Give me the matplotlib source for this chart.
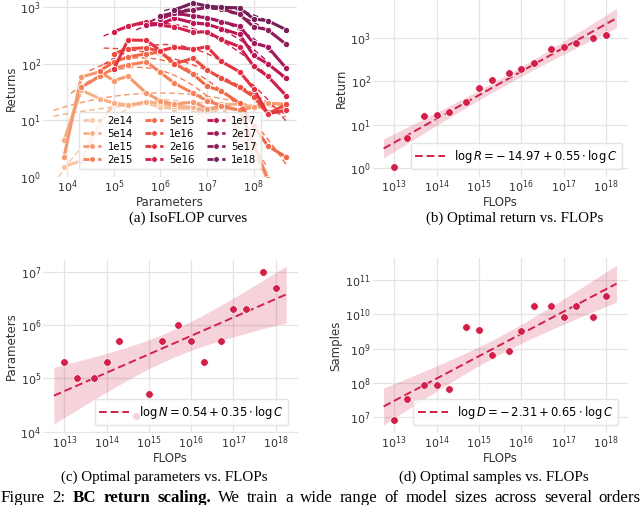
import numpy as np
import matplotlib
matplotlib.use("Agg")
import matplotlib.pyplot as plt
from matplotlib.lines import Line2D
import seaborn as sns

nan = np.nan

# ---------------- data ----------------
budget_labels = ['2e14', '5e14', '1e15', '2e15', '5e15', '1e16',
                 '2e16', '5e16', '1e17', '2e17', '5e17', '1e18']
params_grid = [8.5e3, 2e4, 5e4, 1e5, 2e5, 5e5, 1e6, 2e6, 5e6,
               1e7, 2e7, 5e7, 1e8, 2e8, 5e8]

ret_2e14 = [1.5, 1.9, 9, 19, 18, 20, 17, 16, 16, 10.5, 18, 6, 2.5, 0.9, nan]
ret_5e14 = [4.4, 34, 24, 20, 18.5, 21, 20, 17.5, 17, 14, 19, 19, 17, 20, 19]
ret_1e15 = [2.2, 58, 72, 50, 60, 30, 22, 19, 21, 16, 17, 15, 17, 20, 19]
ret_2e15 = [nan, 38, 60, 83, 95, 108, 70, 45, 30, 22, 18, 15, 3.8, 0.9, nan]
ret_5e15 = [nan, nan, 75, 107, 132, 150, 160, 100, 65, 40, 33, 20, 8, 3.5, 2.2]
ret_1e16 = [nan, nan, nan, 150, 185, 192, 165, 100, 125, 78, 55, 38, 26, 13, 19]
ret_2e16 = [nan, nan, nan, 80, 263, 260, 170, 195, 180, 200, 110, 72, 36, 13, 15]
ret_5e16 = [nan, nan, nan, 370, 460, 560, 480, 450, 360, 370, 270, 200, 90, 60, 27]
ret_1e17 = [nan, nan, nan, nan, nan, 480, 500, 645, 530, 500, 420, 330, 140, 100, 55]
ret_2e17 = [nan, nan, nan, nan, nan, nan, 620, 790, 700, 650, 560, 460, 230, 200, 83]
ret_5e17 = [nan, nan, nan, nan, nan, nan, 700, 800, 900, 1000, 950, 750, 450, 400, 220]
ret_1e18 = [nan, nan, nan, nan, nan, nan, nan, 900, 1200, 1050, 1000, 980, 620, 580, 400]

isoflop_returns = [ret_2e14, ret_5e14, ret_1e15, ret_2e15, ret_5e15, ret_1e16,
                   ret_2e16, ret_5e16, ret_1e17, ret_2e17, ret_5e17, ret_1e18]

flops = [1e13, 2e13, 5e13, 1e14, 2e14, 5e14, 1e15, 2e15, 5e15, 1e16,
         2e16, 5e16, 1e17, 2e17, 5e17, 1e18]
opt_return = [1.05, 5.0, 15.5, 17, 20, 34, 72, 108, 160, 192,
              263, 560, 645, 790, 1000, 1200]
opt_params = [2e5, 1e5, 1e5, 2e5, 5e5, 2e4, 5e4, 5e5, 1e6, 5e5,
              2e5, 5e5, 2e6, 2e6, 1e7, 5e6]
opt_samples = [8.5e6, 3.5e7, 8.5e7, 8.5e7, 6.8e7, 4.4e9, 3.5e9, 6.7e8, 8.4e8,
               3.3e9, 1.7e10, 1.7e10, 8.2e9, 1.7e10, 8.2e9, 3.3e10]

label_b = r'$\log R = -\,14.97 + 0.55 \cdot \log C$'
label_c = r'$\log N = 0.54 + 0.35 \cdot \log C$'
label_d = r'$\log D = -\,2.31 + 0.65 \cdot \log C$'

caption_words = ['Figure', '2:', 'BC', 'return', 'scaling.', 'We', 'train', 'a',
                 'wide', 'range', 'of', 'model', 'sizes', 'across', 'several',
                 'orders', 'of', 'magnitude']
caption_bold = [0, 0, 1, 1, 1, 0, 0, 0, 0, 0, 0, 0, 0, 0, 0, 0, 0, 0]

# ---------------- style ----------------
W, H = 640, 505
fig = plt.figure(figsize=(W / 100, H / 100), dpi=100)
TXT = '#333333'
GRID = '#e4e4e4'
RED = '#d2204a'
TICK_FS = 8.0
LAB_FS = 8.5

rocket = sns.color_palette("rocket", as_cmap=True)
colors = [rocket(v) for v in np.linspace(0.9, 0.3, len(budget_labels))]


def add_axes(l, r, t, b):
    return fig.add_axes([l / W, 1 - b / H, (r - l) / W, (b - t) / H])


def style(ax):
    ax.set_xscale('log')
    ax.set_yscale('log')
    for s in ax.spines.values():
        s.set_visible(False)
    ax.grid(True, which='major', color=GRID, lw=0.9)
    ax.minorticks_off()
    ax.tick_params(which='both', length=0, labelsize=TICK_FS, colors=TXT, pad=1.5)
    ax.set_axisbelow(True)


# ---------------- panel a ----------------
axa = add_axes(43, 297, 0, 176.5)
style(axa)
lg = np.log10(np.array(params_grid))
for vals, c in zip(isoflop_returns, colors):
    v = np.array(vals, dtype=float)
    m = ~np.isnan(v)
    x, y = lg[m], np.log10(v[m])
    p = np.polyfit(x, y, 2)
    xs = np.linspace(x.min() - 0.22, x.max(), 100)
    axa.plot(10 ** xs, 10 ** np.polyval(p, xs), ls='--', lw=1.0, color=c,
             dashes=(4, 2.5), zorder=2)
    axa.plot(np.array(params_grid)[m], v[m], '-o', color=c, lw=2.2, ms=4.5,
             mec='white', mew=0.6, zorder=3)
axa.set_xlim(10 ** 3.48, 10 ** 8.93)
axa.set_ylim(1, 10 ** 3.13)
axa.set_xticks([1e4, 1e5, 1e6, 1e7, 1e8])
axa.set_yticks([1, 10, 100, 1000])
axa.set_xlabel('Parameters', fontsize=LAB_FS, color=TXT, labelpad=0.5)
axa.set_ylabel('Returns', fontsize=LAB_FS, color=TXT, labelpad=2)
handles = [Line2D([], [], color=c, ls='--', lw=2.0, marker='o', ms=4,
                  mec='white', mew=0.5) for c in colors]
axa.legend(handles, budget_labels, ncol=3, loc='lower center',
           fontsize=7.3, frameon=True, framealpha=0.8, edgecolor='#dddddd',
           handlelength=1.8, handletextpad=0.6, columnspacing=1.2,
           labelspacing=0.3, borderpad=0.4, bbox_to_anchor=(0.5, 0.015))


# ---------------- panels b-d ----------------
def fit_panel(ax, xv, yv, label, loc_anchor):
    x = np.log10(np.array(xv))
    y = np.log10(np.array(yv))
    n = len(x)
    b, a = np.polyfit(x, y, 1)
    resid = y - (a + b * x)
    s = np.sqrt(np.sum(resid ** 2) / (n - 2))
    xm = x.mean()
    sxx = np.sum((x - xm) ** 2)
    xs = np.linspace(12.75, 18.25, 200)
    pred = a + b * xs
    se = s * np.sqrt(1 / n + (xs - xm) ** 2 / sxx)
    t = 2.145
    ax.fill_between(10 ** xs, 10 ** (pred - t * se), 10 ** (pred + t * se),
                    color=RED, alpha=0.2, lw=0, zorder=1)
    ax.plot(10 ** xs, 10 ** pred, ls='--', color=RED, lw=1.4, label=label,
            dashes=(4, 2), zorder=2)
    ax.scatter(xv, yv, s=30, color=RED, edgecolor='white', lw=0.5, zorder=3)
    ax.set_xlim(10 ** 12.5, 10 ** 18.52)
    ax.set_xticks([1e13, 1e14, 1e15, 1e16, 1e17, 1e18])
    ax.set_xlabel('FLOPs', fontsize=LAB_FS, color=TXT, labelpad=0.5)
    ax.legend(loc='lower right', fontsize=8.3, frameon=True, framealpha=0.8,
              edgecolor='#dddddd', handlelength=2.6, borderpad=0.4,
              bbox_to_anchor=loc_anchor)


axb = add_axes(373, 628, 0, 176.7)
style(axb)
fit_panel(axb, flops, opt_return, label_b, (1.0, 0.01))
axb.set_ylim(10 ** -0.21, 10 ** 3.89)
axb.set_yticks([1, 10, 100, 1000])
axb.set_ylabel('Return', fontsize=LAB_FS, color=TXT, labelpad=2)

axc = add_axes(43.3, 297.7, 260, 432.7)
style(axc)
fit_panel(axc, flops, opt_params, label_c, (0.985, 0.01))
axc.set_ylim(10 ** 3.98, 10 ** 7.22)
axc.set_yticks([1e4, 1e5, 1e6, 1e7])
axc.set_ylabel('Parameters', fontsize=LAB_FS, color=TXT, labelpad=2)

axd = add_axes(373, 628, 258, 432.7)
style(axd)
fit_panel(axd, flops, opt_samples, label_d, (0.985, 0.01))
axd.set_ylim(10 ** 6.55, 10 ** 11.64)
axd.set_yticks([1e7, 1e8, 1e9, 1e10, 1e11])
axd.set_ylabel('Samples', fontsize=LAB_FS, color=TXT, labelpad=2)

# ---------------- captions ----------------
SERIF = 'Liberation Serif'
CAP_FS = 10.8
fig.text(188 / W, 1 - 218 / H, '(a) IsoFLOP curves', family=SERIF,
         fontsize=CAP_FS, ha='center', va='center')
fig.text(515 / W, 1 - 218 / H, '(b) Optimal return vs. FLOPs', family=SERIF,
         fontsize=CAP_FS, ha='center', va='center')
fig.text(164 / W, 1 - 477 / H, '(c) Optimal parameters vs. FLOPs', family=SERIF,
         fontsize=CAP_FS, ha='center', va='center')
fig.text(494 / W, 1 - 477 / H, '(d) Optimal samples vs. FLOPs', family=SERIF,
         fontsize=CAP_FS, ha='center', va='center')

# justified caption line (cut by the bottom edge, as in the reference)
MAIN_FS = 12.2
renderer = fig.canvas.get_renderer()
base_y = 1 - 502.5 / H
texts = []
for wd, bd in zip(caption_words, caption_bold):
    t = fig.text(0, base_y, wd, family=SERIF, fontsize=MAIN_FS,
                 fontweight='bold' if bd else 'normal', va='baseline')
    texts.append(t)
widths = [t.get_window_extent(renderer).width for t in texts]
n_just = caption_words.index('orders') + 1
gap = (641.0 - 1.0 - sum(widths[:n_just])) / (n_just - 1)
xpos = 1.0
for t, w in zip(texts, widths):
    t.set_x(xpos / W)
    xpos += w + gap

fig.savefig('out.png', dpi=100)
